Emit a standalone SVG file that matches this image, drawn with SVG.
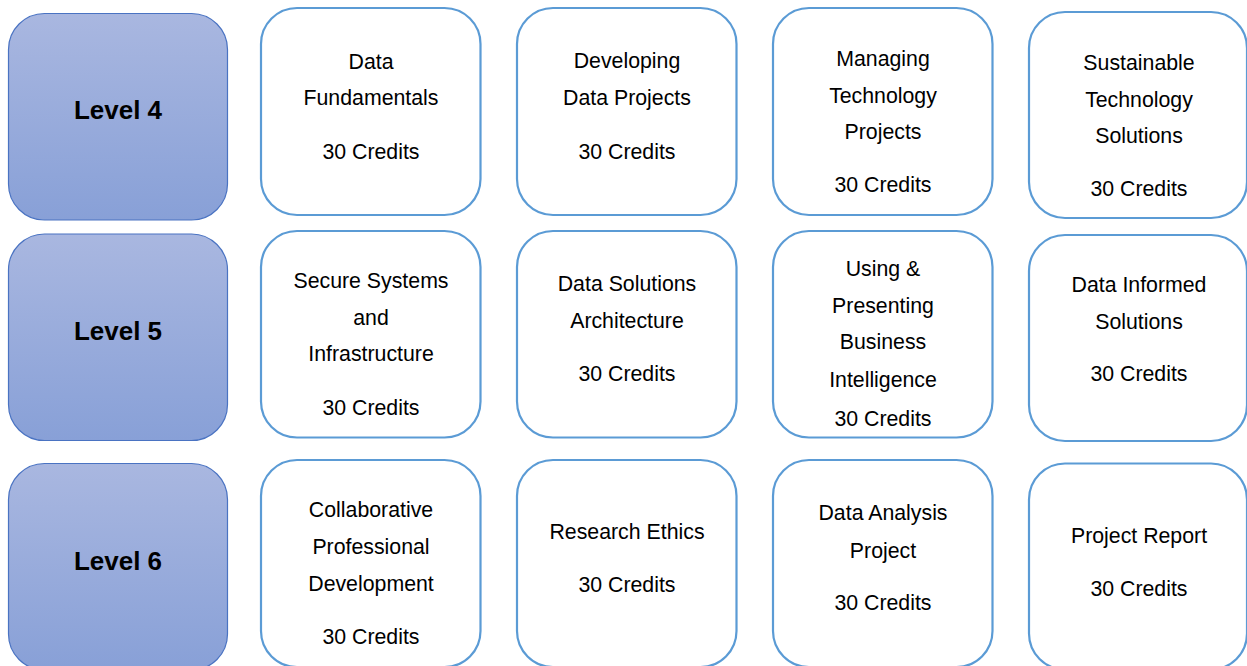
<svg xmlns="http://www.w3.org/2000/svg" width="1247" height="666" viewBox="0 0 1247 666">
<defs>
<linearGradient id="lvl" x1="0" y1="0" x2="0" y2="1">
<stop offset="0" stop-color="#a9b7e0"/>
<stop offset="1" stop-color="#88a0d7"/>
</linearGradient>
</defs>
<style>
.lv{fill:url(#lvl);stroke:#4a73c2;stroke-width:1.2}
.bx{fill:#ffffff;stroke:#5b9bd5;stroke-width:2.2}
.lt{font-family:"Liberation Sans",Arial,sans-serif;font-weight:bold;font-size:26px;fill:#000;text-anchor:middle}
.t{font-family:"Liberation Sans",Arial,sans-serif;font-size:21.3px;fill:#000;text-anchor:middle}
</style>
<rect width="1247" height="666" fill="#ffffff"/>
<g id="level4"><rect class="lv" x="8.5" y="13.5" width="219" height="206.5" rx="36"/><text class="lt" x="118" y="119">Level 4</text></g>
<g id="level5"><rect class="lv" x="8.5" y="234" width="219" height="206.5" rx="36"/><text class="lt" x="118" y="340">Level 5</text></g>
<g id="level6"><rect class="lv" x="8.5" y="463.5" width="219" height="206.5" rx="36"/><text class="lt" x="118" y="570">Level 6</text></g>

<g id="data-fundamentals"><rect class="bx" x="261" y="8" width="219.5" height="207" rx="36"/>
<text class="t" x="371" y="69">Data</text><text class="t" x="371" y="105">Fundamentals</text><text class="t" x="371" y="159">30 Credits</text></g>
<g id="developing-data-projects"><rect class="bx" x="517" y="8" width="219.5" height="207" rx="36"/>
<text class="t" x="627" y="68">Developing</text><text class="t" x="627" y="105">Data Projects</text><text class="t" x="627" y="159">30 Credits</text></g>
<g id="managing-technology-projects"><rect class="bx" x="773" y="8" width="219.5" height="207" rx="36"/>
<text class="t" x="883" y="66">Managing</text><text class="t" x="883" y="103">Technology</text><text class="t" x="883" y="139">Projects</text><text class="t" x="883" y="192">30 Credits</text></g>
<g id="sustainable-technology-solutions"><rect class="bx" x="1029" y="12" width="218" height="206" rx="36"/>
<text class="t" x="1139" y="70">Sustainable</text><text class="t" x="1139" y="107">Technology</text><text class="t" x="1139" y="143">Solutions</text><text class="t" x="1139" y="196">30 Credits</text></g>

<g id="secure-systems"><rect class="bx" x="261" y="231" width="219.5" height="206.5" rx="36"/>
<text class="t" x="371" y="288">Secure Systems</text><text class="t" x="371" y="325">and</text><text class="t" x="371" y="361">Infrastructure</text><text class="t" x="371" y="415">30 Credits</text></g>
<g id="data-solutions-architecture"><rect class="bx" x="517" y="231" width="219.5" height="206.5" rx="36"/>
<text class="t" x="627" y="291">Data Solutions</text><text class="t" x="627" y="328">Architecture</text><text class="t" x="627" y="381">30 Credits</text></g>
<g id="business-intelligence"><rect class="bx" x="773" y="231" width="219.5" height="206.5" rx="36"/>
<text class="t" x="883" y="276">Using &amp;</text><text class="t" x="883" y="313">Presenting</text><text class="t" x="883" y="349">Business</text><text class="t" x="883" y="387">Intelligence</text><text class="t" x="883" y="426">30 Credits</text></g>
<g id="data-informed-solutions"><rect class="bx" x="1029" y="235" width="218" height="206" rx="36"/>
<text class="t" x="1139" y="292">Data Informed</text><text class="t" x="1139" y="329">Solutions</text><text class="t" x="1139" y="381">30 Credits</text></g>

<g id="collaborative-development"><rect class="bx" x="261" y="460" width="219.5" height="207" rx="36"/>
<text class="t" x="371" y="517">Collaborative</text><text class="t" x="371" y="554">Professional</text><text class="t" x="371" y="591">Development</text><text class="t" x="371" y="644">30 Credits</text></g>
<g id="research-ethics"><rect class="bx" x="517" y="460" width="219.5" height="207" rx="36"/>
<text class="t" x="627" y="539">Research Ethics</text><text class="t" x="627" y="592">30 Credits</text></g>
<g id="data-analysis-project"><rect class="bx" x="773" y="460" width="219.5" height="207" rx="36"/>
<text class="t" x="883" y="520">Data Analysis</text><text class="t" x="883" y="558">Project</text><text class="t" x="883" y="610">30 Credits</text></g>
<g id="project-report"><rect class="bx" x="1029" y="463.5" width="218" height="206" rx="36"/>
<text class="t" x="1139" y="543">Project Report</text><text class="t" x="1139" y="596">30 Credits</text></g>
</svg>
